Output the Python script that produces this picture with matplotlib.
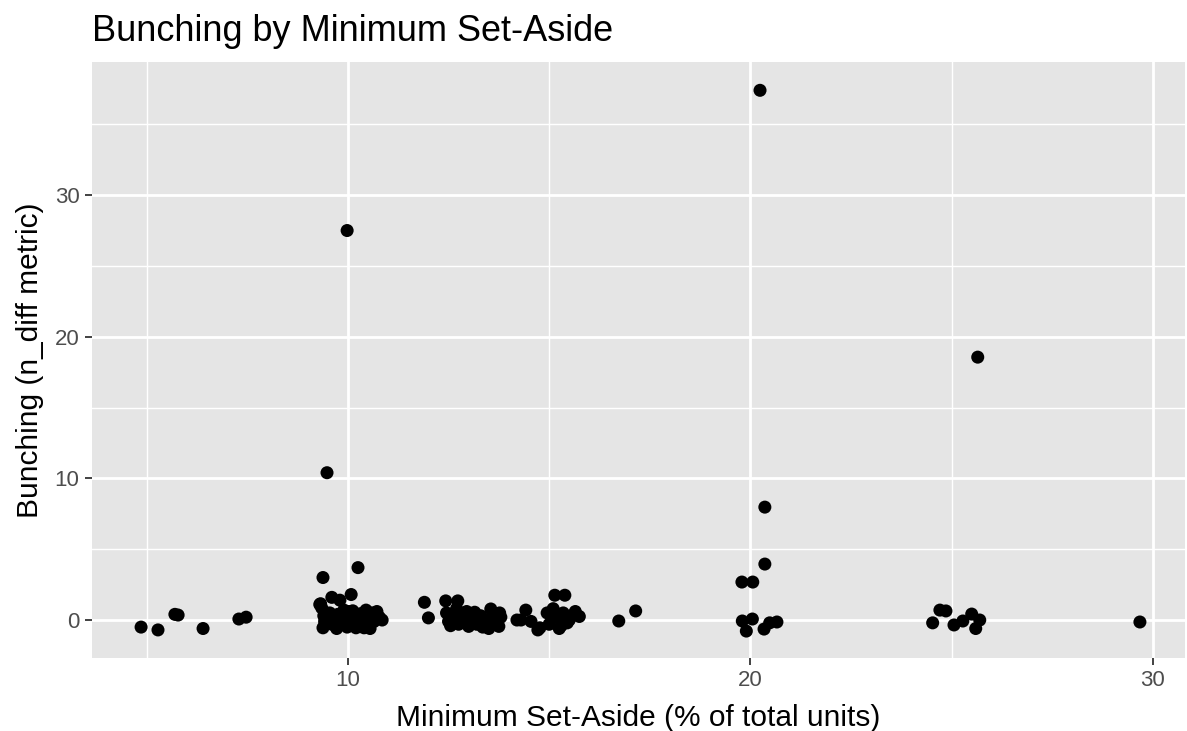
import matplotlib
matplotlib.use("Agg")
import matplotlib.pyplot as plt
from matplotlib.ticker import MultipleLocator

# minimum set-aside (% of total units) and bunching metric
set_aside_low = [4.86, 5.28, 5.70, 5.78, 6.40, 7.29, 7.47]
bunching_low = [-0.5, -0.7, 0.4, 0.35, -0.6, 0.07, 0.2]

set_aside_10 = [9.30, 9.35, 9.40, 9.42, 9.38, 9.55, 9.60, 9.65, 9.72, 9.75,
                9.82, 9.90, 9.95, 9.98, 10.05, 10.10, 10.12, 10.20, 10.25, 10.32,
                10.38, 10.45, 10.50, 10.55, 10.60, 10.65, 10.72, 10.78, 10.85, 10.02,
                10.40, 9.38, 10.25, 10.08, 9.60, 9.80, 9.32, 9.48, 9.98]
bunching_10 = [1.1, 0.85, 0.3, -0.1, -0.55, 0.5, -0.3, 0.1, -0.6, 0.4,
               -0.2, 0.7, 0.0, -0.5, 0.3, -0.2, 0.65, -0.55, 0.1, 0.45,
               -0.3, 0.7, 0.05, -0.6, 0.5, -0.1, 0.6, 0.2, 0.0, 0.6,
               -0.55, 3.0, 3.7, 1.8, 1.6, 1.4, 1.15, 10.4, 27.5]

set_aside_13 = [11.90, 12.00, 12.43, 12.73, 13.55, 13.77, 12.45, 12.50, 12.55, 12.60,
                12.70, 12.75, 12.80, 12.90, 12.95, 13.00, 13.10, 13.15, 13.20, 13.30,
                13.35, 13.45, 13.50, 13.60, 13.65, 13.75, 13.80]
bunching_13 = [1.25, 0.15, 1.35, 1.35, 0.78, 0.5, 0.5, -0.1, -0.4, 0.2,
               0.8, -0.3, 0.4, -0.1, 0.6, -0.45, 0.1, 0.55, -0.3, 0.3,
               -0.5, 0.0, -0.6, 0.35, -0.2, -0.45, 0.2]

set_aside_15 = [14.20, 14.42, 14.30, 14.55, 14.77, 14.72, 15.14, 15.39, 14.95, 15.00,
                15.10, 15.20, 15.25, 15.35, 15.45, 15.55, 15.65, 15.75, 15.30, 15.50]
bunching_15 = [0.0, 0.7, 0.0, -0.1, -0.55, -0.7, 1.75, 1.75, 0.5, -0.3,
               0.8, 0.2, -0.6, 0.5, -0.2, 0.3, 0.6, 0.25, -0.4, 0.0]

set_aside_high = [16.73, 17.15, 19.79, 20.06, 20.36, 19.80, 20.05, 19.90, 20.34, 20.48,
                  20.66, 20.36, 20.24, 24.53, 24.71, 24.86, 25.06, 25.28, 25.50, 25.70,
                  25.60, 25.65, 29.68]
bunching_high = [-0.07, 0.64, 2.68, 2.68, 3.95, -0.07, 0.07, -0.78, -0.64, -0.2,
                 -0.14, 7.97, 37.4, -0.2, 0.7, 0.64, -0.35, -0.07, 0.42, 0.0,
                 -0.6, 18.56, -0.14]

x = set_aside_low + set_aside_10 + set_aside_13 + set_aside_15 + set_aside_high
y = bunching_low + bunching_10 + bunching_13 + bunching_15 + bunching_high

plt.rcParams["font.family"] = ["Liberation Sans", "DejaVu Sans"]

fig = plt.figure(figsize=(11.87, 7.31), dpi=100)
ax = fig.add_axes([0.0775, 0.0999, 0.9208, 0.8153])
ax.set_facecolor("#E5E5E5")
for side in ax.spines.values():
    side.set_visible(False)

ax.set_xlim(3.64, 30.8)
ax.set_ylim(-2.68, 39.4)
ax.xaxis.set_major_locator(MultipleLocator(10))
ax.xaxis.set_minor_locator(MultipleLocator(5))
ax.yaxis.set_major_locator(MultipleLocator(10))
ax.yaxis.set_minor_locator(MultipleLocator(5))
ax.grid(which="major", color="white", linewidth=2.0)
ax.grid(which="minor", color="white", linewidth=1.0)
ax.set_axisbelow(True)
ax.tick_params(which="major", length=5, width=1.3, color="#333333",
               labelcolor="#4D4D4D", labelsize=16, pad=4)
ax.tick_params(which="minor", length=0)

ax.scatter(x, y, s=88, color="black", edgecolors="none", zorder=3)

ax.set_xlabel("Minimum Set-Aside (% of total units)", fontsize=21.5, labelpad=9)
ax.set_ylabel("Bunching (n_diff metric)", fontsize=21.5, labelpad=8)
ax.set_title("Bunching by Minimum Set-Aside", loc="left", fontsize=26, pad=15)

fig.savefig("out.png", dpi=100)
